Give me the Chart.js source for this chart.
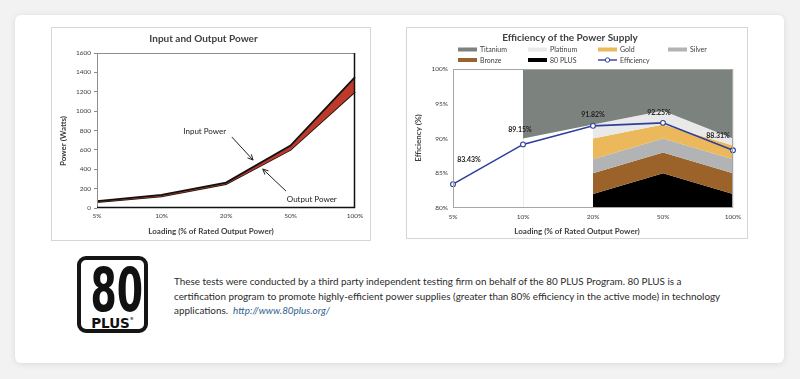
<!DOCTYPE html>
<html>
<head>
<meta charset="utf-8">
<script src="https://cdn.jsdelivr.net/npm/chart.js@4/dist/chart.umd.min.js"></script>
<style>
  body { margin: 0; width: 800px; height: 379px; overflow: hidden; background: #f2f2f2; font-family: Lato, "Liberation Sans", sans-serif; }
  .card { position: absolute; left: 15px; top: 15px; width: 769px; height: 348px; background: #fff; border-radius: 6px; box-shadow: 0 1px 6px rgba(0,0,0,0.10); }
  .frame { position: absolute; outline: 1px solid #d6d6d6; background: #fff; }
  #powerBox { left: 52px; top: 28px; width: 318px; height: 212px; }
  #effBox { left: 407px; top: 28px; width: 340px; height: 210px; }
  .logo { position: absolute; left: 77px; top: 256px; width: 71px; height: 77px; border: 4px solid #151515; border-radius: 9px; box-sizing: border-box; }
  .n80 { position: absolute; left: 0; right: 0; top: 0; text-align: center; font: bold 60px/1 "DejaVu Sans Condensed", "DejaVu Sans"; color: #111; transform: scaleX(0.7); }
  .plus { position: absolute; left: 0; right: 0; top: 57px; text-align: center; font: bold 13.5px/1 "DejaVu Sans"; color: #111; }
  .plus sup { font-size: 4px; vertical-align: 8px; }
  .note { position: absolute; left: 174px; top: 274px; font-size: 9.9px; line-height: 14.5px; color: #2b2b2b; white-space: nowrap; }
  .note a { color: #2f5e8e; font-style: italic; text-decoration: none; }
</style>
</head>
<body>
<div class="card"></div>
<div class="frame" id="powerBox"><canvas id="powerChart" width="318" height="212"></canvas></div>
<div class="frame" id="effBox"><canvas id="effChart" width="340" height="210"></canvas></div>
<div class="logo"><div class="n80">80</div><div class="plus">PLUS<sup>®</sup></div></div>
<div class="note">These tests were conducted by a third party independent testing firm on behalf of the 80 PLUS Program. 80 PLUS is a<br>certification program to promote highly-efficient power supplies (greater than 80% efficiency in the active mode) in technology<br>applications.&nbsp; <a>http://www.80plus.org/</a></div>

<script>
// data
const loadLabels = ['5%', '10%', '20%', '50%', '100%'];
const inputPower = [72, 135, 262, 645, 1350];
const outputPower = [60, 120, 245, 600, 1200];
const efficiency = [83.43, 89.15, 91.82, 92.25, 88.31];
const titanium = [null, 90, 92, 94, 90];
const platinum = [null, null, 90, 92, 89];
const gold = [null, null, 87, 90, 87];
const silver = [null, null, 85, 88, 85];
const bronze = [null, null, 82, 85, 82];
const plus80 = [null, null, 80, 80, 80];

Chart.defaults.font.family = 'Lato, "Liberation Sans", sans-serif';
Chart.defaults.color = '#404040';
Chart.defaults.animation = false;

const FONT = 'Lato, "Liberation Sans", sans-serif';

// plot frame
const frameLines = {
  id: 'frameLines',
  afterDatasetsDraw(chart, args, opts) {
    const { ctx, chartArea: a } = chart;
    ctx.save();
    ctx.lineWidth = 1;
    ctx.strokeStyle = opts.color;
    ctx.strokeRect(a.left + 0.5, a.top + 0.5, a.right - a.left - 1, a.bottom - a.top - 1);
    if (opts.strong) {
      ctx.strokeStyle = opts.strong;
      ctx.lineWidth = 1.5;
      ctx.beginPath();
      ctx.moveTo(a.left, a.bottom - 0.5);
      ctx.lineTo(a.right - 0.5, a.bottom - 0.5);
      ctx.lineTo(a.right - 0.5, a.top);
      ctx.stroke();
    }
    ctx.restore();
  }
};

// axis titles, centred on the picture like the original
const axisTitles = {
  id: 'axisTitles',
  afterDraw(chart, args, opts) {
    const { ctx, width } = chart;
    ctx.save();
    ctx.font = 'bold 8px ' + FONT;
    ctx.fillStyle = '#404040';
    ctx.textAlign = 'center';
    ctx.textBaseline = 'middle';
    ctx.fillText(opts.x, width / 2, opts.xAt);
    ctx.translate(opts.yAt[0], opts.yAt[1]);
    ctx.rotate(-Math.PI / 2);
    ctx.fillText(opts.y, 0, 0);
    ctx.restore();
  }
};

// "Input Power" / "Output Power" callouts
const callouts = {
  id: 'callouts',
  afterDatasetsDraw(chart, args, opts) {
    const { ctx, scales: { x, y } } = chart;
    ctx.save();
    ctx.font = '8px ' + FONT;
    ctx.fillStyle = '#222';
    ctx.strokeStyle = '#222';
    ctx.lineWidth = 1;
    ctx.textAlign = 'center';
    ctx.textBaseline = 'middle';
    opts.items.forEach(n => {
      ctx.fillText(n.text, x.getPixelForValue(n.at[0]), y.getPixelForValue(n.at[1]));
      const x1 = x.getPixelForValue(n.from[0]), y1 = y.getPixelForValue(n.from[1]);
      const x2 = x.getPixelForValue(n.to[0]), y2 = y.getPixelForValue(n.to[1]);
      const ang = Math.atan2(y2 - y1, x2 - x1);
      ctx.beginPath();
      ctx.moveTo(x1, y1);
      ctx.lineTo(x2, y2);
      ctx.moveTo(x2 - 6 * Math.cos(ang - 0.45), y2 - 6 * Math.sin(ang - 0.45));
      ctx.lineTo(x2, y2);
      ctx.lineTo(x2 - 6 * Math.cos(ang + 0.45), y2 - 6 * Math.sin(ang + 0.45));
      ctx.stroke();
    });
    ctx.restore();
  }
};

new Chart(document.getElementById('powerChart'), {
  type: 'line',
  data: {
    labels: loadLabels,
    datasets: [
      { label: 'Input Power', data: inputPower, borderColor: '#111', borderWidth: 1.8, backgroundColor: '#bd3a2a', fill: '+1', pointRadius: 0 },
      { label: 'Output Power', data: outputPower, borderColor: '#111', borderWidth: 1.8, fill: false, pointRadius: 0 }
    ]
  },
  options: {
    responsive: false,
    devicePixelRatio: 1,
    layout: { padding: { right: 15 } },
    plugins: {
      legend: { display: false },
      tooltip: { enabled: false },
      title: { display: true, text: 'Input and Output Power', color: '#404040', font: { size: 10, weight: 'bold' }, padding: { top: 5, bottom: 8 } },
      frameLines: { color: '#8c8c8c', strong: '#111' },
      axisTitles: { x: 'Loading (% of Rated Output Power)', xAt: 203, y: 'Power (Watts)', yAt: [11, 113] },
      callouts: {
        items: [
          { text: 'Input Power', at: [1.67, 795], from: [2.09, 733], to: [2.42, 495] },
          { text: 'Output Power', at: [3.33, 93], from: [2.93, 175], to: [2.57, 402] }
        ]
      }
    },
    scales: {
      x: {
        afterFit(s) { s.height = 32; },
        grid: { display: false, drawTicks: false },
        border: { display: false },
        ticks: { font: { size: 6.5 }, color: '#404040', padding: 4, maxRotation: 0 }
      },
      y: {
        min: 0, max: 1600,
        afterFit(s) { s.width = 45; },
        grid: { drawOnChartArea: false, drawTicks: true, tickLength: 3, color: '#8c8c8c' },
        border: { display: false },
        ticks: { stepSize: 200, font: { size: 6.5 }, color: '#404040', padding: 3, callback: v => String(v) }
      }
    }
  },
  plugins: [frameLines, axisTitles, callouts]
});

// 7-item legend laid out in a 4-column grid
const legendGrid = {
  id: 'legendGrid',
  afterDraw(chart, args, opts) {
    const { ctx } = chart;
    ctx.save();
    ctx.font = '7px ' + FONT;
    ctx.textBaseline = 'middle';
    ctx.textAlign = 'left';
    chart.data.datasets.forEach((ds, i) => {
      const x = opts.left + (i % 4) * opts.colWidth;
      const y = opts.top + Math.floor(i / 4) * opts.rowHeight;
      if (ds.fill === false) {
        ctx.strokeStyle = ds.borderColor;
        ctx.lineWidth = 1.4;
        ctx.beginPath();
        ctx.moveTo(x, y);
        ctx.lineTo(x + 19, y);
        ctx.stroke();
        ctx.fillStyle = '#fff';
        ctx.lineWidth = 1;
        ctx.beginPath();
        ctx.arc(x + 9.5, y, 2.2, 0, Math.PI * 2);
        ctx.fill();
        ctx.stroke();
      } else {
        ctx.fillStyle = ds.backgroundColor;
        ctx.fillRect(x, y - 2, 19, 4);
      }
      ctx.fillStyle = '#404040';
      ctx.fillText(ds.label, x + 22, y + 0.5);
    });
    ctx.restore();
  }
};

// value labels next to the efficiency points
const pointLabels = {
  id: 'pointLabels',
  afterDatasetsDraw(chart, args, opts) {
    const { ctx } = chart;
    const meta = chart.getDatasetMeta(opts.dataset);
    const values = chart.data.datasets[opts.dataset].data;
    ctx.save();
    ctx.font = 'bold 7px ' + FONT;
    ctx.fillStyle = '#222';
    ctx.textAlign = 'center';
    ctx.textBaseline = 'middle';
    meta.data.forEach((pt, i) => {
      const off = opts.offsets[i];
      ctx.fillText(values[i].toFixed(2) + '%', pt.x + off[0], pt.y + off[1]);
    });
    ctx.restore();
  }
};

const band = (label, data, color, fill) => ({
  label, data, fill, backgroundColor: color, borderColor: 'transparent', borderWidth: 0, pointRadius: 0
});

new Chart(document.getElementById('effChart'), {
  type: 'line',
  data: {
    labels: loadLabels,
    datasets: [
      band('Titanium', titanium, '#7c827e', 'end'),
      band('Platinum', platinum, '#e9e9e9', '-1'),
      band('Gold', gold, '#ebb95b', '-1'),
      band('Silver', silver, '#b2b3b5', '-1'),
      band('Bronze', bronze, '#9b632a', '-1'),
      band('80 PLUS', plus80, '#000000', '-1'),
      {
        label: 'Efficiency', data: efficiency, fill: false, order: -1,
        borderColor: '#2e3f9b', borderWidth: 1.6,
        pointRadius: 2.4, pointBackgroundColor: '#fff', pointBorderColor: '#2e3f9b', pointBorderWidth: 1.1
      }
    ]
  },
  options: {
    responsive: false,
    devicePixelRatio: 1,
    layout: { padding: { right: 14 } },
    plugins: {
      legend: { display: false },
      tooltip: { enabled: false },
      title: { display: true, text: 'Efficiency of the Power Supply', color: '#404040', font: { size: 10, weight: 'bold' }, padding: { top: 4, bottom: 25 } },
      legendGrid: { left: 51, top: 21.5, colWidth: 70, rowHeight: 10.5 },
      pointLabels: { dataset: 6, offsets: [[16, -24], [-3, -15], [0, -11], [-4, -10], [-15, -14]] },
      frameLines: { color: '#a6a6a6' },
      axisTitles: { x: 'Loading (% of Rated Output Power)', xAt: 203, y: 'Efficiency (%)', yAt: [11, 110] }
    },
    scales: {
      x: {
        afterFit(s) { s.height = 30; },
        grid: { display: true, drawTicks: false, color: '#ececec' },
        border: { display: false },
        ticks: { font: { size: 6.5 }, color: '#404040', padding: 5, maxRotation: 0 }
      },
      y: {
        min: 80, max: 100,
        afterFit(s) { s.width = 46; },
        grid: { display: false, drawTicks: false },
        border: { display: false },
        ticks: { stepSize: 5, font: { size: 6.5 }, color: '#404040', padding: 5, callback: v => v + '%' }
      }
    }
  },
  plugins: [frameLines, axisTitles, legendGrid, pointLabels]
});
</script>
</body>
</html>
